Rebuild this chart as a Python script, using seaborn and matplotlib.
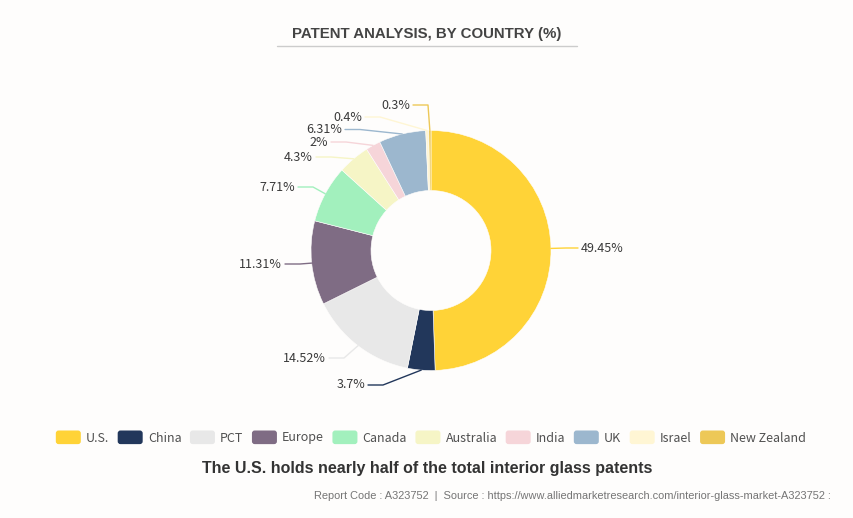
import matplotlib
matplotlib.use("Agg")
import matplotlib.pyplot as plt
import seaborn as sns
from matplotlib.patches import FancyBboxPatch, Patch
from matplotlib.legend_handler import HandlerPatch
from matplotlib.lines import Line2D
import numpy as np

countries = ["U.S.", "China", "PCT", "Europe", "Canada", "Australia", "India", "UK", "Israel", "New Zealand"]
shares = [49.45, 3.7, 14.52, 11.31, 7.71, 4.3, 2, 6.31, 0.4, 0.3]
share_labels = ["49.45%", "3.7%", "14.52%", "11.31%", "7.71%", "4.3%", "2%", "6.31%", "0.4%", "0.3%"]
colors = ["#FFD337", "#22375B", "#E8E8E8", "#7F6C84", "#A2F0BD", "#F6F5C6", "#F6D5D9", "#9CB7CE", "#FFF6D4", "#EDC857"]

# layout (pixels, top-left origin)
W, H = 854, 518
CX, CY, R, R_IN = 431, 250.5, 120, 60
BG = "#FEFDFC"
elbows = [(566, 248), (383, 385), (344, 358), (300, 264), (313, 187), (331, 157), (346, 142), (360, 129.5), (380, 117), (428, 105)]
ends = [(578, 248), (368, 385), (329, 358), (285, 264), (298, 187), (316, 157), (331, 142), (345, 129.5), (365, 117), (413, 105)]

sns.set_theme(style="white", rc={"figure.facecolor": BG, "axes.facecolor": BG})
plt.rcParams["font.family"] = ["Noto Sans CJK SC", "DejaVu Sans"]
palette = sns.color_palette(colors)

fig = plt.figure(figsize=(W / 100, H / 100), dpi=100, facecolor=BG)
ax = fig.add_axes([0, 0, 1, 1])
ax.set_xlim(0, W)
ax.set_ylim(0, H)
ax.set_aspect("equal")
ax.axis("off")

Y = lambda y: H - y

wedges, _ = ax.pie(shares, colors=palette, startangle=90, counterclock=False,
                   center=(CX, Y(CY)), radius=R, normalize=True, frame=True,
                   wedgeprops=dict(width=R - R_IN, edgecolor=BG, linewidth=0.4))
ax.set_xlim(0, W)
ax.set_ylim(0, H)
ax.axis("off")

for w, lab, el, en, col in zip(wedges, share_labels, elbows, ends, palette):
    a = np.deg2rad((w.theta1 + w.theta2) / 2)
    sx, sy = CX + R * np.cos(a), Y(CY) + R * np.sin(a)
    ax.plot([sx, el[0], en[0]], [sy, Y(el[1]), Y(en[1])], color=col, lw=1, solid_joinstyle="round")
    right = en[0] > CX
    ax.text(en[0] + (3 if right else -3), Y(en[1]), lab, ha="left" if right else "right", va="center",
            fontsize=9.0, color="#3A3A3A")

# title and rule
fig.text(427 / W, Y(34) / H, "PATENT ANALYSIS, BY COUNTRY (%)", ha="center", va="center",
         family="Liberation Sans", weight="bold", fontsize=10.8, color="#444444")
ax.add_line(Line2D([277, 577], [Y(46), Y(46)], color="#CCCCCC", lw=1))


class RoundHandler(HandlerPatch):
    def create_artists(self, legend, orig, xd, yd, width, height, fontsize, trans):
        p = FancyBboxPatch((-xd + 1.5, -yd + 1.5), width - 3, height - 3,
                           boxstyle="round,pad=1.5,rounding_size=2",
                           facecolor=orig.get_facecolor(), edgecolor="none", transform=trans)
        return [p]


handles = [Patch(facecolor=c, label=n) for c, n in zip(palette, countries)]
leg = ax.legend(handles=handles, loc="center", bbox_to_anchor=(431 / W, Y(437.5) / H), ncol=10, frameon=False,
                fontsize=9, labelcolor="#505050", handlelength=2.0, handleheight=1.3, handletextpad=0.42,
                columnspacing=0.67, borderpad=0, borderaxespad=0,
                handler_map={Patch: RoundHandler()})

fig.text(427.5 / W, Y(468) / H, "The U.S. holds nearly half of the total interior glass patents", ha="center", va="center",
         family="Liberation Sans", weight="bold", fontsize=11.5, color="#333333")
fig.text(831 / W, Y(496) / H, "Report Code : A323752  |  Source : https://www.alliedmarketresearch.com/interior-glass-market-A323752 :",
         ha="right", va="center", family="Liberation Sans", fontsize=7.9, color="#757575")

fig.savefig("out.png", dpi=100, facecolor=BG)
